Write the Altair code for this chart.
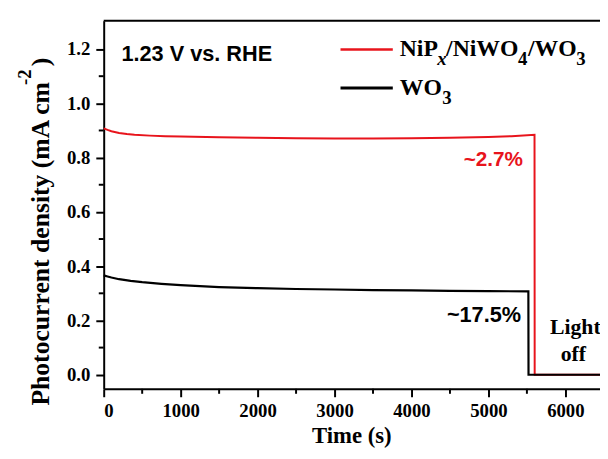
import altair as alt
import pandas as pd

# ---- data ----
red_t = [0, 50, 100, 200, 300, 400, 600, 800, 1000, 1500, 2000, 2500, 3000, 3500, 4000, 4500, 5000, 5300, 5599, 5601, 6450]
red_j = [0.908, 0.902, 0.897, 0.891, 0.887, 0.884, 0.881, 0.879, 0.878, 0.875, 0.873, 0.871, 0.870, 0.870, 0.871, 0.873, 0.876, 0.879, 0.884, 0.0, 0.0]
black_t = [0, 50, 100, 200, 350, 500, 750, 1000, 1500, 2000, 2500, 3000, 3500, 4000, 4500, 5000, 5519, 5521, 6450]
black_j = [0.366, 0.362, 0.358, 0.352, 0.346, 0.341, 0.335, 0.330, 0.323, 0.319, 0.316, 0.314, 0.312, 0.311, 0.309, 0.308, 0.307, 0.0, 0.0]

x_major = [0, 1000, 2000, 3000, 4000, 5000, 6000]
x_minor = [500, 1500, 2500, 3500, 4500, 5500]
y_major = [0.0, 0.2, 0.4, 0.6, 0.8, 1.0, 1.2]
y_minor = [0.1, 0.3, 0.5, 0.7, 0.9, 1.1]

x_title = "Time (s)"
y_title_main = "Photocurrent density (mA cm"
y_title_sup = "-2"
y_title_end = ")"
condition_label = "1.23 V vs. RHE"
red_pct = "~2.7%"
black_pct = "~17.5%"
light_lines = ["Light", "off"]

W, H = 503, 373
XD = [0, 6450]
YD = [-0.052, 1.304]
SERIF = "Liberation Serif"
SANS = "Liberation Sans"
RED = "#e8141c"

xs = alt.Scale(domain=XD, nice=False, zero=False)
ys = alt.Scale(domain=YD, nice=False, zero=False)

red_df = pd.DataFrame({"t": red_t, "j": red_j})
black_df = pd.DataFrame({"t": black_t, "j": black_j})

base_x = alt.X("t:Q", scale=xs, axis=alt.Axis(values=x_major, title=None, format="d"))
base_y = alt.Y("j:Q", scale=ys, axis=alt.Axis(values=y_major, title=None, format=".1f"))

red_line = alt.Chart(red_df).mark_line(color=RED, strokeWidth=2).encode(x=base_x, y=base_y)
black_line = alt.Chart(black_df).mark_line(color="black", strokeWidth=2.2).encode(
    x=alt.X("t:Q", scale=xs), y=alt.Y("j:Q", scale=ys))

# minor ticks
ymin = alt.Chart(pd.DataFrame({"j": y_minor})).mark_rule(color="black", strokeWidth=2).encode(
    y=alt.Y("j:Q", scale=ys), x=alt.value(-5), x2=alt.value(0))
xmin = alt.Chart(pd.DataFrame({"t": x_minor})).mark_rule(color="black", strokeWidth=2).encode(
    x=alt.X("t:Q", scale=xs), y=alt.value(H), y2=alt.value(H + 5))

# top border
top = alt.Chart(pd.DataFrame({"a": [0]})).mark_rule(color="black", strokeWidth=2).encode(
    x=alt.value(0), x2=alt.value(W), y=alt.value(0))

def txt(s, x, y, font=SERIF, size=20, color="black", align="left", angle=0, style="normal"):
    kw = dict(font=font, fontSize=size, fontWeight="bold", color=color, align=align,
              baseline="alphabetic", fontStyle=style)
    if angle:
        kw["angle"] = angle
    return alt.Chart(pd.DataFrame({"s": [s]})).mark_text(**kw).encode(
        text="s:N", x=alt.value(x), y=alt.value(y))

# axis titles
titles = [
    txt(x_title, W / 2, 428, size=23, align="center"),
    txt(y_title_main, -55, 390, size=26, angle=270),
    txt(y_title_sup, -74, 65, size=19, angle=270),
    txt(y_title_end, -55, 46, size=26, angle=270),
]

# legend
leg_red = alt.Chart(pd.DataFrame({"a": [0]})).mark_rule(color=RED, strokeWidth=2.5).encode(
    x=alt.value(240), x2=alt.value(293), y=alt.value(29))
leg_black = alt.Chart(pd.DataFrame({"a": [0]})).mark_rule(color="black", strokeWidth=3).encode(
    x=alt.value(240), x2=alt.value(293), y=alt.value(68))
leg = [
    txt("NiP", 300, 36, size=24),
    txt("x", 338, 45, size=19, style="italic"),
    txt("/NiWO", 347, 36, size=24),
    txt("4", 420, 45, size=19),
    txt("/WO", 430, 36, size=24),
    txt("3", 479, 45, size=19),
    txt("WO", 300, 75, size=24),
    txt("3", 343, 84, size=19),
]

ann = [
    txt(condition_label, 18, 41, font=SANS, size=22),
    txt(red_pct, 425, 147, font=SANS, size=21, color=RED, align="right"),
    txt(black_pct, 423, 305, font=SANS, size=22, align="right"),
    txt(light_lines[0], 478, 317, size=22, align="center"),
    txt(light_lines[1], 476, 345, size=22, align="center"),
]

chart = alt.layer(red_line, black_line, ymin, xmin, top, leg_red, leg_black, *titles, *leg, *ann).properties(
    width=W, height=H,
    autosize=alt.AutoSizeParams(type="none"),
    padding={"left": 97, "top": 10, "right": 0, "bottom": 60},
    background="white",
).configure_view(stroke=None).configure_axis(
    grid=False, domainColor="black", domainWidth=2, tickColor="black", tickWidth=2, tickSize=8,
    labelFont=SERIF, labelFontSize=19, labelFontWeight="bold", labelColor="black",
).configure_axisY(labelPadding=6).configure_axisX(labelPadding=5)

chart.save("out.html", embed_options={"renderer": "svg", "actions": False})
